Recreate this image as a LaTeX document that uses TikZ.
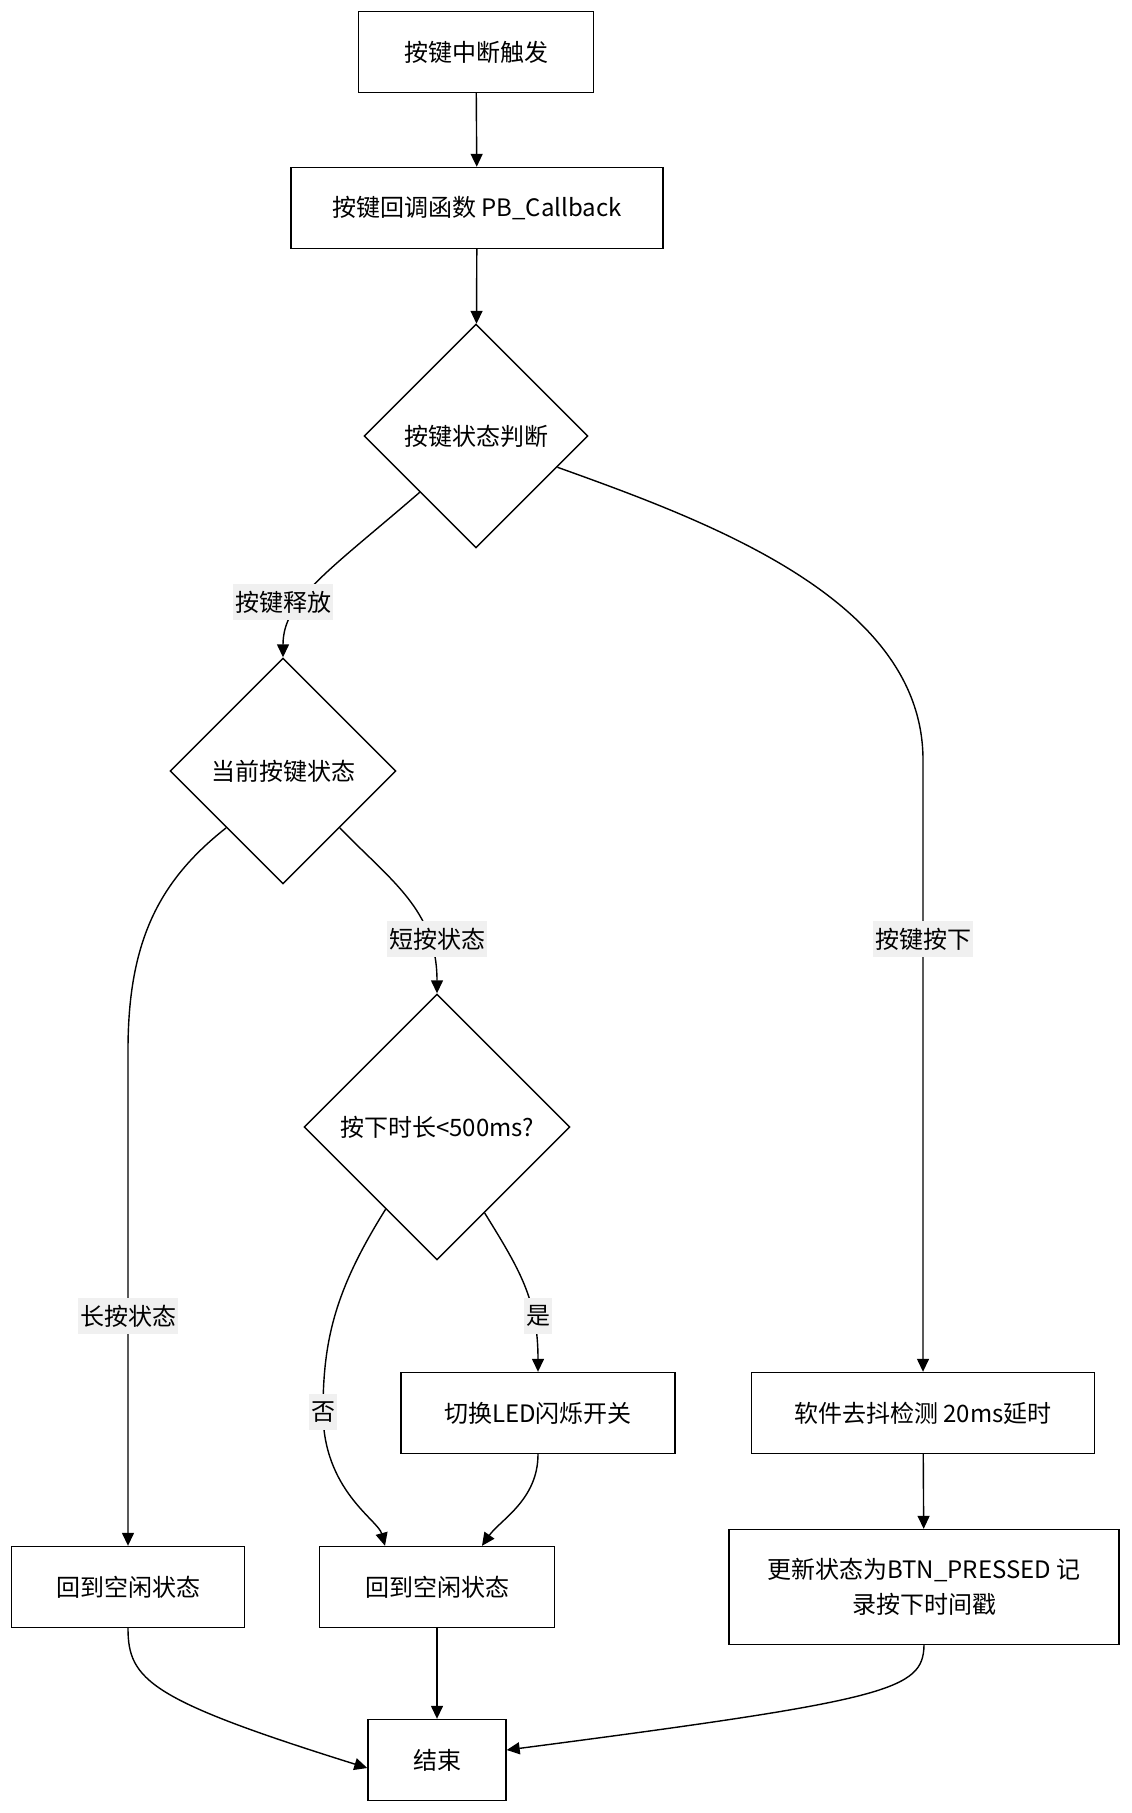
\documentclass[tikz,border=0pt]{standalone}
\usepackage{fontspec}
\setmainfont{Noto Sans CJK SC}
\usetikzlibrary{shapes.geometric,arrows.meta}

\begin{document}
\begin{tikzpicture}[x=0.5pt,y=-0.5pt,
  font=\fontsize{12}{17.5}\selectfont,
  every node/.style={inner sep=0pt},
  box/.style={draw,line width=0.7pt,minimum height=40.5pt,align=center},
  decision/.style={draw,diamond,aspect=1,line width=0.7pt},
  lbl/.style={fill=black!6,minimum height=18pt,inner xsep=1pt},
  arr/.style={line width=0.7pt,-{Triangle[length=6.5pt,width=6pt]}}]
\useasboundingbox (0,0) rectangle (1131,1813);
\node[box,minimum width=117.5pt] (trig) at (476,52) {按键中断触发};
\node[box,minimum width=186pt] (cb) at (477,208) {按键回调函数 PB\_Callback};
\node[decision,minimum width=112pt,minimum height=112pt] (judge) at (476,436) {按键状态判断};
\node[decision,minimum width=113pt,minimum height=113pt] (cur) at (283,771) {当前按键状态};
\node[decision,minimum width=133pt,minimum height=133pt] (dur) at (437,1127) {按下时长<500ms?};
\node[box,minimum width=137pt] (toggle) at (538,1413) {切换LED闪烁开关};
\node[box,minimum width=171.5pt] (deb) at (923,1413) {软件去抖检测 20ms延时};
\node[box,minimum width=116.5pt] (idleL) at (128,1587) {回到空闲状态};
\node[box,minimum width=117.5pt] (idleM) at (437,1587) {回到空闲状态};
\node[box,minimum width=195pt,minimum height=57.5pt] (upd) at (924,1587) {更新状态为BTN\_PRESSED 记\\录按下时间戳};
\node[box,minimum width=69pt] (fin) at (437,1760) {结束};

\draw[arr] (trig) -- (cb);
\draw[arr] (cb) -- (judge);
\draw[arr] (judge.south west) .. controls (330,570) and (283,600) .. (cur.north);
\draw[arr] (judge.-21) .. controls (710,522) and (923,600) .. (923,760) -- (deb.north);
\draw[arr] (cur.south west) .. controls (160,880) and (128,940) .. (128,1050) -- (idleL.north);
\draw[arr] (cur.south east) .. controls (390,880) and (437,910) .. (dur.north);
\draw[arr] (dur.238) .. controls (335,1290) and (323,1340) .. (323,1412)
  .. controls (323,1490) and (378,1520) .. ([xshift=-26pt]idleM.north);
\draw[arr] (dur.-61) .. controls (520,1270) and (538,1300) .. (toggle.north);
\draw[arr] (toggle.south) .. controls (538,1500) and (500,1520) .. ([xshift=22.5pt]idleM.north);
\draw[arr] (deb) -- (upd);
\draw[arr] (idleM) -- (fin);
\draw[arr] (idleL.south) .. controls (128,1680) and (150,1700) .. ([yshift=-4pt]fin.west);
\draw[arr] (upd.south) .. controls (923,1690) and (890,1700) .. ([yshift=5pt]fin.east);

\node[lbl] (relL) at (283,602) {按键释放};
\node[lbl] (shortL) at (437,939) {短按状态};
\node[lbl] (longL) at (128,1316) {长按状态};
\node[lbl] (yesL) at (538,1316) {是};
\node[lbl] (noL) at (323,1412) {否};
\node[lbl] (pressL) at (923,939) {按键按下};
\end{tikzpicture}
\end{document}
